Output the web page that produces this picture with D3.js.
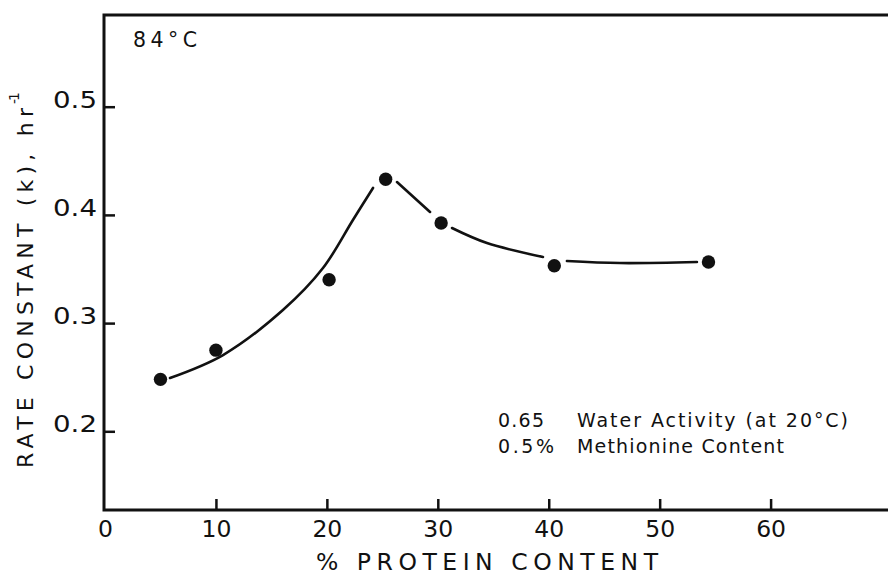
<!DOCTYPE html>
<html>
<head>
<meta charset="utf-8">
<script src="https://cdn.jsdelivr.net/npm/d3@7"></script>
<style>
  html, body { margin: 0; padding: 0; background: #fff; }
  svg { display: block; }
  text { font-family: "DejaVu Sans", sans-serif; fill: #111; }
</style>
</head>
<body>
<svg id="chart" width="888" height="575"></svg>
<script>
// Measured rate constants (k, hr^-1) against protein content (%)
const proteinPct = [5, 10, 20.2, 25.3, 30.3, 40.5, 54.4];
const rateK      = [0.248, 0.275, 0.340, 0.433, 0.3925, 0.353, 0.3565];

// Hand-drawn fit curve; null entries break the line next to the plotted points
const fitPct = [5.86, 10.64, 16.04, 19.65, 22.35, 24.16, null,
                26.32, 29.30, null,
                31.28, 34.43, 39.48, null,
                41.64, 46.42, 53.36];
const fitK   = [0.2493, 0.2705, 0.3121, 0.3509, 0.3953, 0.4249, null,
                0.4304, 0.4027, null,
                0.3879, 0.3740, 0.3611, null,
                0.3574, 0.3555, 0.3565];

const xTicks = [0, 10, 20, 30, 40, 50, 60];
const yTicks = [0.2, 0.3, 0.4, 0.5];

const xTitle = "% PROTEIN CONTENT";
const yTitle = "RATE CONSTANT (k), hr";
const ySup = "-1";
const tempLabel = "84\u00b0C";
const notesLeft = ["0.65", "0.5%"];
const notesRight = ["Water Activity (at 20\u00b0C)", "Methionine Content"];

const W = 888, H = 575;
const frame = { left: 104, top: 15, bottom: 510 };

const svg = d3.select("#chart");

const x = d3.scaleLinear().domain([0, 60]).range([105, 770.6]);
const y = d3.scaleLinear().domain([0.35 - 241 / 1082, 0.35 + 254 / 1082])
  .range([frame.bottom, frame.top]);

// Frame: left, top and bottom lines (right side runs off the page)
svg.append("path")
  .attr("d", `M${W + 5},${frame.top} H${frame.left} V${frame.bottom} H${W + 5}`)
  .attr("fill", "none").attr("stroke", "#111").attr("stroke-width", 3);

// Y axis ticks pointing inward
const yAxis = d3.axisLeft(y).tickValues(yTicks).tickFormat(d3.format(".1f"))
  .tickSize(-11).tickPadding(7).tickSizeOuter(0);
const gy = svg.append("g").attr("transform", `translate(${frame.left},0)`).call(yAxis);
gy.select(".domain").remove();
gy.selectAll(".tick line").attr("stroke", "#111").attr("stroke-width", 2.5);
gy.selectAll(".tick text")
  .attr("dy", "0.02em").attr("font-size", 23.5)
  .attr("font-family", "DejaVu Sans").attr("fill", "#111")
  .attr("textLength", 44).attr("lengthAdjust", "spacingAndGlyphs");

// X axis ticks pointing inward
const xAxis = d3.axisBottom(x).tickValues(xTicks).tickFormat(d3.format("d"))
  .tickSize(-11).tickPadding(27).tickSizeOuter(0);
const gx = svg.append("g").attr("transform", `translate(0,${frame.bottom})`).call(xAxis);
gx.select(".domain").remove();
gx.selectAll(".tick line").attr("stroke", "#111").attr("stroke-width", 2.5)
  .attr("display", d => d === 0 ? "none" : null);
gx.selectAll(".tick text")
  .attr("dy", 0).attr("font-size", 23.5)
  .attr("font-family", "DejaVu Sans").attr("fill", "#111");

// Axis titles
svg.append("text")
  .attr("x", 316).attr("y", 570)
  .attr("font-size", 23.5)
  .attr("textLength", 342).attr("lengthAdjust", "spacing")
  .text(xTitle);

const yt = svg.append("g").attr("transform", "translate(33,468) rotate(-90)");
yt.append("text")
  .attr("x", 0).attr("y", 0)
  .attr("font-size", 22)
  .attr("textLength", 360).attr("lengthAdjust", "spacing")
  .text(yTitle);
yt.append("text")
  .attr("x", 364).attr("y", -14)
  .attr("font-size", 14)
  .attr("textLength", 12).attr("lengthAdjust", "spacing")
  .text(ySup);

// Temperature label
svg.append("text")
  .attr("x", 133).attr("y", 47)
  .attr("font-size", 20.5)
  .attr("textLength", 64).attr("lengthAdjust", "spacing")
  .text(tempLabel);

// Conditions note
const noteW = [[46, 271], [56, 207]];
notesLeft.forEach((t, i) => {
  svg.append("text").attr("x", 498).attr("y", 427 + i * 26)
    .attr("font-size", 19)
    .attr("textLength", noteW[i][0]).attr("lengthAdjust", "spacing").text(t);
  svg.append("text").attr("x", 577).attr("y", 427 + i * 26)
    .attr("font-size", 19)
    .attr("textLength", noteW[i][1]).attr("lengthAdjust", "spacing").text(notesRight[i]);
});

// Fit curve
const fitData = fitPct.map((p, i) => ({ p, k: fitK[i] }));
const line = d3.line()
  .defined(d => d.p !== null && d.k !== null)
  .x(d => x(d.p)).y(d => y(d.k))
  .curve(d3.curveCatmullRom.alpha(0.5));
svg.append("path")
  .datum(fitData)
  .attr("d", line)
  .attr("fill", "none").attr("stroke", "#111")
  .attr("stroke-width", 2.6).attr("stroke-linecap", "round");

// Measured points
svg.append("g").selectAll("circle")
  .data(proteinPct.map((p, i) => ({ p, k: rateK[i] })))
  .join("circle")
  .attr("cx", d => x(d.p)).attr("cy", d => y(d.k))
  .attr("r", 6.7).attr("fill", "#111");
</script>
</body>
</html>
